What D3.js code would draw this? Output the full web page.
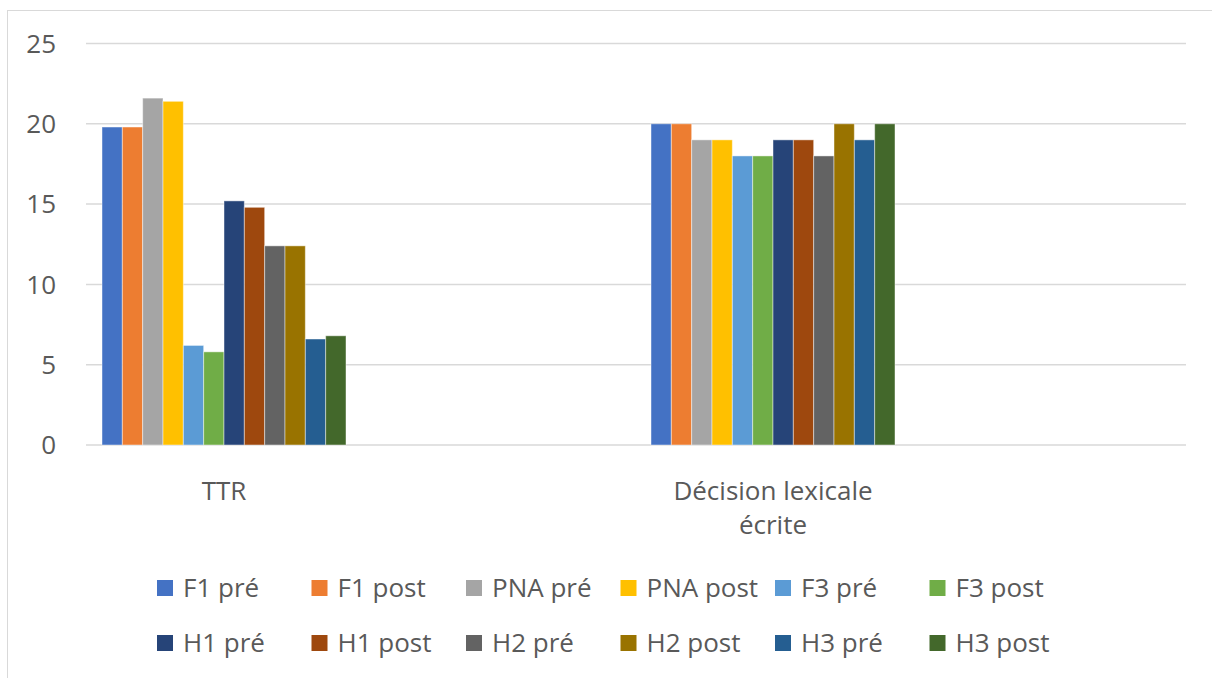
<!DOCTYPE html>
<html>
<head>
<meta charset="utf-8">
<script src="https://cdn.jsdelivr.net/npm/d3@7"></script>
<style>
  body { margin: 0; background: #fff; }
  svg text { font-family: "Open Sans", sans-serif; fill: #595959; }
</style>
</head>
<body>
<div id="chart-area"></div>
<script>
const W = 1212, H = 678

// data
const categories = ["TTR", "Décision lexicale écrite"]
const seriesNames = ["F1 pré", "F1 post", "PNA pré", "PNA post", "F3 pré", "F3 post",
  "H1 pré", "H1 post", "H2 pré", "H2 post", "H3 pré", "H3 post"]
const ttrValues = [19.8, 19.8, 21.6, 21.4, 6.2, 5.8, 15.2, 14.8, 12.4, 12.4, 6.6, 6.8]
const decisionValues = [20, 20, 19, 19, 18, 18, 19, 19, 18, 20, 19, 20]
const yTicks = [0, 5, 10, 15, 20, 25]
const colors = ["#4472C4", "#ED7D31", "#A5A5A5", "#FFC000", "#5B9BD5", "#70AD47",
  "#264478", "#9E480E", "#636363", "#997300", "#255E91", "#43682B"]

const valuesByCat = [ttrValues, decisionValues]
const FONT = "26px"

const svg = d3.select("#chart-area").append("svg")
  .attr("width", W)
  .attr("height", H)

// chart border
svg.append("rect")
  .attr("x", 7.5).attr("y", 10.5)
  .attr("width", 1230).attr("height", 700)
  .attr("fill", "none")
  .attr("stroke", "#d9d9d9")
  .attr("stroke-width", 1)

const PLOT = {LEFT: 86, RIGHT: 1186, TOP: 43.5, BOTTOM: 445}

const y = d3.scaleLinear()
  .domain([0, 25])
  .range([PLOT.BOTTOM, PLOT.TOP])

const x0 = d3.scalePoint()
  .domain(categories)
  .range([224, 773])

const x1 = d3.scaleBand()
  .domain(seriesNames)
  .range([-122, 122])

// gridlines
svg.append("g").selectAll("line")
  .data(yTicks)
  .enter().append("line")
  .attr("x1", PLOT.LEFT).attr("x2", PLOT.RIGHT)
  .attr("y1", d => y(d)).attr("y2", d => y(d))
  .attr("stroke", "#d9d9d9")
  .attr("stroke-width", 1.5)

// y tick labels
svg.append("g").selectAll("text")
  .data(yTicks)
  .enter().append("text")
  .attr("x", 56)
  .attr("y", d => y(d))
  .attr("dy", "0.35em")
  .attr("text-anchor", "end")
  .attr("font-size", FONT)
  .text(d => d)

// bars
const groups = svg.append("g").selectAll("g")
  .data(categories)
  .enter().append("g")
  .attr("transform", d => `translate(${x0(d)},0)`)

groups.selectAll("rect")
  .data((c, i) => seriesNames.map((s, j) => ({s: s, v: valuesByCat[i][j], c: colors[j]})))
  .enter().append("rect")
  .attr("x", d => x1(d.s))
  .attr("width", x1.bandwidth())
  .attr("y", d => y(d.v))
  .attr("height", d => y(0) - y(d.v))
  .attr("fill", d => d.c)
  .attr("stroke", "#ffffff")
  .attr("stroke-opacity", 0.45)
  .attr("stroke-width", 1)

// category labels
const catLines = [["TTR"], ["Décision lexicale", "écrite"]]
categories.forEach((c, i) => {
  const t = svg.append("text")
    .attr("x", x0(c))
    .attr("y", 491)
    .attr("text-anchor", "middle")
    .attr("font-size", FONT)
  catLines[i].forEach((line, k) => {
    t.append("tspan")
      .attr("x", x0(c))
      .attr("y", 491 + k * 34)
      .attr("dy", "0.35em")
      .text(line)
  })
})

// legend
const legend = svg.append("g")
const colW = 154.5
seriesNames.forEach((s, i) => {
  const col = i % 6, row = Math.floor(i / 6)
  const lx = 157 + col * colW, ly = 588 + row * 55
  legend.append("rect")
    .attr("x", lx).attr("y", ly - 8)
    .attr("width", 16).attr("height", 16)
    .attr("fill", colors[i])
  legend.append("text")
    .attr("x", lx + 26)
    .attr("y", ly)
    .attr("dy", "0.35em")
    .attr("font-size", FONT)
    .text(s)
})
</script>
</body>
</html>
